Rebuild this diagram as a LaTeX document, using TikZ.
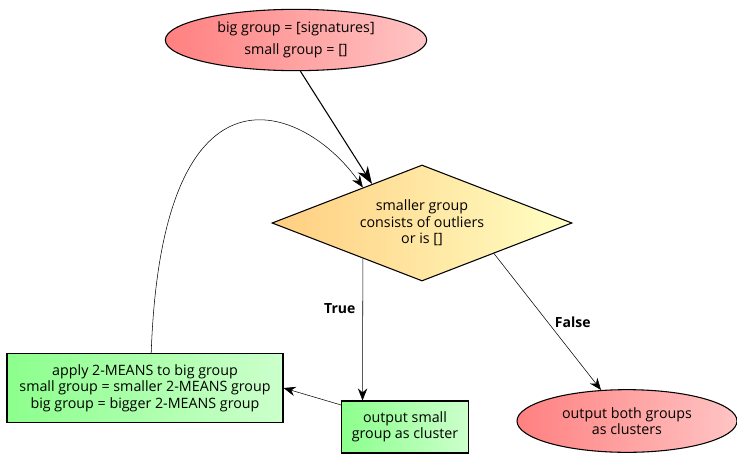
\documentclass[tikz,border=0pt]{standalone}
\usepackage{fontspec}
\setmainfont{Open Sans}
\usetikzlibrary{shapes.geometric,arrows.meta}

\definecolor{redL}{RGB}{255,128,128}
\definecolor{redR}{RGB}{255,196,196}
\definecolor{orgL}{RGB}{255,206,128}
\definecolor{orgR}{RGB}{255,255,196}
\definecolor{grnL}{RGB}{140,255,140}
\definecolor{grnR}{RGB}{204,255,204}

\tikzset{
    terminal/.style={ellipse, draw, thick, left color=redL, right color=redR, inner sep=0pt, align=center},
    decision/.style={diamond, aspect=2.6, draw, thick, left color=orgL, right color=orgR, inner sep=0pt, align=center},
    process/.style={rectangle, draw, thick, left color=grnL, right color=grnR, inner sep=0pt, align=center},
    flow/.style={-{Stealth[length=9pt,width=7pt,inset=3pt]}},
    tag/.style={font=\fontsize{10.5}{12}\selectfont\bfseries}
}

\begin{document}
\begin{tikzpicture}[x=0.75pt,y=-0.75pt,font=\fontsize{10.7}{12.4}\selectfont]
        \useasboundingbox (0,0) rectangle (737,453);
        \node[terminal, minimum width=196pt, minimum height=46pt, font=\fontsize{10.7}{16.5}\selectfont] (start) at (296,40) {big group = [signatures]\\small group = []};
        \node[decision, minimum width=225pt, minimum height=87pt] (test) at (422,223) {smaller group\\consists of outliers\\or is []};
        \node[process, minimum width=207pt, minimum height=52pt] (apply) at (145,388) {apply 2-MEANS to big group\\small group = smaller 2-MEANS group\\big group = bigger 2-MEANS group};
        \node[process, minimum width=95pt, minimum height=39pt] (emit) at (405,427) {output small\\group as cluster};
        \node[terminal, minimum width=165pt, minimum height=47pt] (done) at (627,421) {output both groups\\as clusters};

        \draw[-{Stealth[length=13pt,width=9pt,inset=4pt]}, thick] (start.-82) -- (test.142);
        \draw[flow] (apply.80) .. controls (162,45) and (305,105) .. (test.149);
        \draw[flow] (test.211.5) -- (emit.148) node[tag, pos=0.35, left=2pt] {True};
        \draw[flow] (test.-23) -- (done.130) node[tag, pos=0.5, right=2pt] {False};
        \draw[flow] (emit.161) -- (apply.east);
    \end{tikzpicture}
\end{document}
